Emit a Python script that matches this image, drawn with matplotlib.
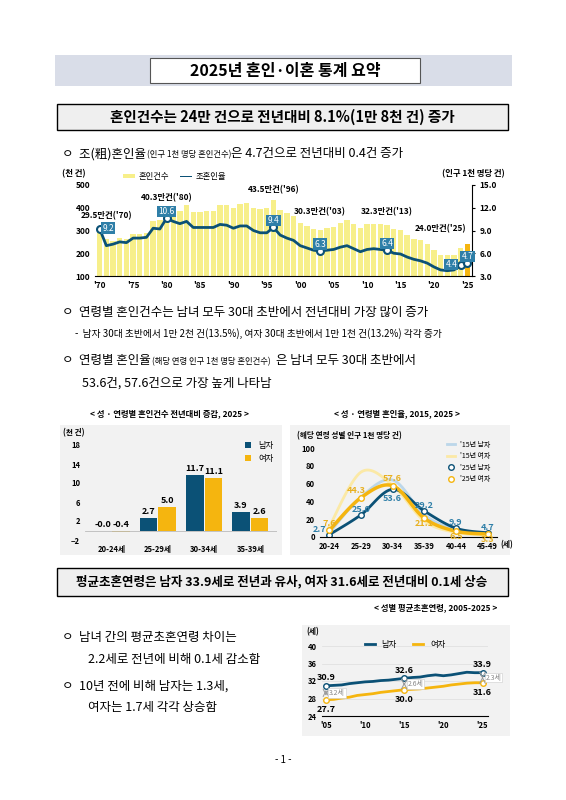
import numpy as np
import matplotlib
matplotlib.use('Agg')
import matplotlib.pyplot as plt
from matplotlib.patches import Rectangle

plt.rcParams['font.family'] = ['Noto Sans CJK KR', 'DejaVu Sans']

# ---- data ----
years = np.arange(1970, 2026)
marriages = [295, 262, 255, 265, 262, 283, 285, 290, 340, 345,
             403, 390, 385, 410, 380, 383, 385, 385, 410, 410,
             400, 415, 420, 400, 393, 398, 435, 389, 375, 363,
             334, 320, 306, 303, 309, 314, 331, 344, 328, 310,
             327, 330, 327, 323, 306, 303, 282, 264, 258, 240,
             214, 193, 192, 194, 222, 240]
crude_rate = [9.2, 7.0, 7.2, 7.5, 7.4, 8.0, 8.0, 8.1, 9.3, 9.2,
              10.6, 10.2, 9.9, 10.2, 9.4, 9.4, 9.4, 9.4, 9.8, 9.7,
              9.3, 9.6, 9.6, 9.0, 8.7, 8.7, 9.4, 8.4, 8.0, 7.7,
              7.0, 6.7, 6.4, 6.3, 6.4, 6.5, 6.8, 7.0, 6.6, 6.2,
              6.5, 6.6, 6.5, 6.4, 6.0, 5.9, 5.5, 5.2, 5.0, 4.7,
              4.2, 3.8, 3.7, 3.8, 4.4, 4.7]

age_groups = ['20-24세', '25-29세', '30-34세', '35-39세']
chg_male = [-0.0, 2.7, 11.7, 3.9]
chg_female = [-0.4, 5.0, 11.1, 2.6]

rate_ages = ['20-24', '25-29', '30-34', '35-39', '40-44', '45-49']
m15 = [5, 45, 64, 25, 8, 4]
f15 = [12, 73, 58, 18, 5, 2]
m25 = [2.7, 25.0, 53.6, 29.2, 9.9, 4.7]
f25 = [7.6, 44.3, 57.6, 21.1, 6.5, 3.3]

fm_years = np.arange(2005, 2026)
fm_male = [30.9, 31.0, 31.1, 31.4, 31.6, 31.8, 31.9, 32.1, 32.2, 32.4, 32.6,
           32.8, 32.9, 33.2, 33.4, 33.2, 33.4, 33.7, 34.0, 33.9, 33.9]
fm_female = [27.7, 27.8, 28.1, 28.3, 28.7, 28.9, 29.1, 29.4, 29.6, 29.8, 30.0,
             30.1, 30.2, 30.4, 30.6, 30.8, 31.1, 31.3, 31.5, 31.6, 31.6]

NAVY = '#0b5176'
GOLD = '#f5b50f'
W, H = 566, 800

fig = plt.figure(figsize=(W / 100, H / 100), dpi=100)

def ax_px(x0, y0, x1, y1):
    return fig.add_axes([x0 / W, 1 - y1 / H, (x1 - x0) / W, (y1 - y0) / H])

def txt(x, y, s, **kw):
    fig.text(x / W, 1 - y / H, s, **kw)

def rect(x0, y0, x1, y1, **kw):
    fig.patches.append(Rectangle((x0 / W, 1 - y1 / H), (x1 - x0) / W, (y1 - y0) / H,
                                 transform=fig.transFigure, zorder=-5, **kw))

def smooth(xs, ys, n=20):
    # catmull-rom for drawing the curve only
    xs = np.asarray(xs, float); ys = np.asarray(ys, float)
    px = np.r_[xs[0], xs, xs[-1]]; py = np.r_[ys[0], ys, ys[-1]]
    ox, oy = [], []
    t = np.linspace(0, 1, n)
    for i in range(1, len(px) - 2):
        for p, o in ((px, ox), (py, oy)):
            p0, p1, p2, p3 = p[i - 1], p[i], p[i + 1], p[i + 2]
            o.extend(0.5 * (2 * p1 + (-p0 + p2) * t + (2 * p0 - 5 * p1 + 4 * p2 - p3) * t ** 2
                            + (-p0 + 3 * p1 - 3 * p2 + p3) * t ** 3))
    return ox, oy

# ---- title banner ----
rect(55, 55, 512, 86, facecolor='#d9dde8', edgecolor='none')
rect(150, 58, 420, 83, facecolor='white', edgecolor='#555555', lw=0.8)
txt(285, 71, '2025년 혼인·이혼 통계 요약', ha='center', va='center', fontsize=11.5, fontweight='bold')

# ---- section 1 header ----
rect(57, 104, 508, 130, facecolor='#efefef', edgecolor='black', lw=1)
txt(282, 117, '혼인건수는 24만 건으로 전년대비 8.1%(1만 8천 건) 증가', ha='center', va='center',
    fontsize=10.5, fontweight='bold')
txt(62, 154, 'ㅇ  조(粗)혼인율', fontsize=9, va='center')
txt(147, 155, '(인구 1천 명당 혼인건수)', fontsize=6, va='center')
txt(231, 154, '은 4.7건으로 전년대비 0.4건 증가', fontsize=9, va='center')

# ---- chart 1 ----
ax = ax_px(95, 185, 472, 276)
ax.bar(years, marriages, width=0.8, color='#f7ef8a')
ax.bar(years[-1:], marriages[-1:], width=0.8, color=GOLD)
ax.set_ylim(100, 500)
ax.set_yticks(range(100, 501, 100))
ax.set_xlim(1969.3, 2025.7)
ax.set_xticks(range(1970, 2026, 5))
ax.set_xticklabels([f"'{y % 100:02d}" for y in range(1970, 2026, 5)])
ax.tick_params(labelsize=6, length=0)
for lab in ax.get_xticklabels() + ax.get_yticklabels():
    lab.set_fontweight('bold')
for s in ['top', 'right', 'left']:
    ax.spines[s].set_visible(False)
ax2 = ax.twinx()
ax2.plot(years, crude_rate, color=NAVY, lw=2)
mk = [1970, 1980, 1996, 2003, 2013, 2024, 2025]
ax2.plot(mk, [crude_rate[y - 1970] for y in mk], 'o', ms=5, mfc='white', mec=NAVY, mew=1.5)
offs = {1970: 1.3, 2024: -1.4}
for y in mk:
    v = crude_rate[y - 1970]
    ax2.text(y + offs.get(y, 0), v + (0.1 if y in offs else 0.9), f'{v:.1f}', fontsize=6, color='white',
             ha='center', va='center', zorder=5,
             bbox=dict(boxstyle='square,pad=0.15', fc='#2f7fa8', ec='none'))
ax2.set_ylim(3, 15)
ax2.set_yticks([3, 6, 9, 12, 15])
ax2.set_yticklabels(['3.0', '6.0', '9.0', '12.0', '15.0'])
ax2.tick_params(labelsize=6, length=2)
for lab in ax2.get_yticklabels():
    lab.set_fontweight('bold')
for s in ['top', 'left', 'bottom']:
    ax2.spines[s].set_visible(False)
for y, lbl, yy in [(1971, "29.5만건('70)", 345), (1980, "40.3만건('80)", 425), (1996, "43.5만건('96)", 458),
                   (2003, "30.3만건('03)", 362), (2013, "32.3만건('13)", 362), (2021, "24.0만건('25)", 290)]:
    ax.text(y, yy, lbl, fontsize=6, fontweight='bold', ha='center', va='bottom')
txt(62, 176, '(천 건)', fontsize=6, fontweight='bold')
txt(505, 176, '(인구 1천 명당 건)', fontsize=6, fontweight='bold', ha='right')
rect(123, 174, 135, 178, facecolor='#f7ef8a', edgecolor='none')
txt(139, 176, '혼인건수', fontsize=6, va='center')
rect(180, 175.5, 192, 177, facecolor=NAVY, edgecolor='none')
txt(196, 176, '조혼인율', fontsize=6, va='center')

# ---- text block ----
txt(62, 312, 'ㅇ  연령별 혼인건수는 남녀 모두 30대 초반에서 전년대비 가장 많이 증가', fontsize=9, va='center')
txt(75, 334, '-  남자 30대 초반에서 1만 2천 건(13.5%), 여자 30대 초반에서 1만 1천 건(13.2%) 각각 증가',
    fontsize=7, va='center')
txt(62, 361, 'ㅇ  연령별 혼인율', fontsize=9, va='center')
txt(152, 362, '(해당 연령 인구 1천 명당 혼인건수)', fontsize=6, va='center')
txt(276, 361, '은 남녀 모두 30대 초반에서', fontsize=9, va='center')
txt(82, 383, '53.6건, 57.6건으로 가장 높게 나타남', fontsize=9, va='center')

txt(170, 416, '< 성 · 연령별 혼인건수 전년대비 증감, 2025 >', fontsize=6, fontweight='bold', ha='center')
txt(397, 416, '< 성 · 연령별 혼인율, 2015, 2025 >', fontsize=6, fontweight='bold', ha='center')
rect(60, 425, 282, 555, facecolor='#f2f2f2', edgecolor='none')
rect(290, 425, 510, 555, facecolor='#f2f2f2', edgecolor='none')

# ---- chart 2 bars ----
ax = ax_px(85, 445, 277, 540)
x = np.arange(len(age_groups))
ax.bar(x - 0.2, chg_male, 0.38, color=NAVY, label='남자')
ax.bar(x + 0.2, chg_female, 0.38, color=GOLD, label='여자')
for i in range(len(x)):
    for dx, v in ((-0.2, chg_male[i]), (0.2, chg_female[i])):
        ax.text(i + dx, max(v, 0) + 0.4, f'{v:.1f}', ha='center', va='bottom', fontsize=6.5, fontweight='bold')
ax.set_ylim(-2, 18)
ax.set_yticks(range(-2, 19, 4))
ax.set_xticks(x)
ax.set_xticklabels(age_groups)
ax.tick_params(labelsize=5.5, length=0)
for lab in ax.get_xticklabels() + ax.get_yticklabels():
    lab.set_fontweight('bold')
ax.axhline(0, color='#bbbbbb', lw=0.6)
ax.set_facecolor('none')
for s in ax.spines.values():
    s.set_visible(False)
ax.legend(loc='upper right', fontsize=6, frameon=False, handlelength=0.8, bbox_to_anchor=(1.02, 1.12))
txt(63, 435, '(천 건)', fontsize=5.5, fontweight='bold')

# ---- chart 3 rates ----
ax = ax_px(320, 448, 497, 537)
xi = np.arange(len(rate_ages))
ax.plot(*smooth(xi, m15), color='#bcd7ea', lw=2, label="'15년 남자")
ax.plot(*smooth(xi, f15), color='#fbe9a6', lw=2, label="'15년 여자")
ax.plot(*smooth(xi, m25), color=NAVY, lw=2)
ax.plot(*smooth(xi, f25), color=GOLD, lw=2.5)
ax.plot(xi, m25, 'o', color=NAVY, mfc='white', ms=4, ls='-', lw=0, label="'25년 남자")
ax.plot(xi, f25, 'o', color=GOLD, mfc='white', ms=4, ls='-', lw=0, label="'25년 여자")
for i in xi:
    ax.text(i + (-0.1 if i == 0 else 0), m25[i] + (-10 if i == 2 else 6), f'{m25[i]:.1f}', color='#2f7fa8',
            fontsize=6.5, fontweight='bold', ha='center' if i else 'right', va='center')
    ax.text(i - (0.15 if i in (1,) else 0), f25[i] + (8 if i < 3 else -6), f'{f25[i]:.1f}', color='#e8b020',
            fontsize=6.5, fontweight='bold', ha='center', va='center')
ax.set_ylim(0, 100)
ax.set_xlim(-0.3, 5.3)
ax.set_yticks(range(0, 101, 20))
ax.set_xticks(xi)
ax.set_xticklabels(rate_ages)
ax.tick_params(labelsize=5.5, length=0)
for lab in ax.get_xticklabels() + ax.get_yticklabels():
    lab.set_fontweight('bold')
ax.set_facecolor('none')
for s in ['top', 'right', 'left']:
    ax.spines[s].set_visible(False)
ax.legend(loc='upper right', fontsize=5, frameon=False, handlelength=1.2, bbox_to_anchor=(1.0, 1.15))
txt(297, 438, '(해당 연령 성별 인구 1천 명당 건)', fontsize=5.5, fontweight='bold')
txt(500, 547, '(세)', fontsize=5.5, fontweight='bold')

# ---- section 2 header ----
rect(57, 568, 508, 596, facecolor='#efefef', edgecolor='black', lw=1)
txt(282, 582, '평균초혼연령은 남자 33.9세로 전년과 유사, 여자 31.6세로 전년대비 0.1세 상승', ha='center',
    va='center', fontsize=9, fontweight='bold')
txt(497, 610, '< 성별 평균초혼연령, 2005-2025 >', fontsize=6, fontweight='bold', ha='right')
txt(62, 638, 'ㅇ  남녀 간의 평균초혼연령 차이는', fontsize=9, va='center')
txt(88, 660, '2.2세로 전년에 비해 0.1세 감소함', fontsize=9, va='center')
txt(62, 686, 'ㅇ  10년 전에 비해 남자는 1.3세,', fontsize=9, va='center')
txt(88, 708, '여자는 1.7세 각각 상승함', fontsize=9, va='center')

# ---- chart 4 ----
rect(302, 625, 510, 736, facecolor='#f2f2f2', edgecolor='none')
ax = ax_px(322, 646, 488, 716)
ax.plot(fm_years, fm_male, color=NAVY, lw=2, label='남자')
ax.plot(fm_years, fm_female, color=GOLD, lw=2, label='여자')
for y in (2005, 2015, 2025):
    i = y - 2005
    ax.plot(y, fm_male[i], 'o', mfc='white', mec=NAVY, ms=4)
    ax.plot(y, fm_female[i], 'o', mfc='white', mec=GOLD, ms=4)
    ax.text(y, fm_male[i] + 1.3, f'{fm_male[i]:.1f}', ha='center', fontsize=6.5, fontweight='bold')
    ax.text(y, fm_female[i] - 1.3, f'{fm_female[i]:.1f}', ha='center', va='top', fontsize=6.5, fontweight='bold')
    gap = fm_male[i] - fm_female[i]
    ax.annotate('', xy=(y, fm_female[i] + 0.3), xytext=(y, fm_male[i] - 0.3),
                arrowprops=dict(arrowstyle='<->', color='#999999', lw=0.7))
    ax.text(y + 0.4, (fm_male[i] + fm_female[i]) / 2, f'{gap:.1f}세', fontsize=5, color='#888888', va='center',
            bbox=dict(fc='white', ec='#cccccc', lw=0.4, pad=0.5))
ax.set_ylim(24, 40)
ax.set_yticks(range(24, 41, 4))
ax.set_xlim(2004.5, 2025.7)
ax.set_xticks(range(2005, 2026, 5))
ax.set_xticklabels([f"'{y % 100:02d}" for y in range(2005, 2026, 5)])
ax.tick_params(labelsize=5.5, length=0)
for lab in ax.get_xticklabels() + ax.get_yticklabels():
    lab.set_fontweight('bold')
ax.set_facecolor('none')
ax.grid(axis='y', color='#dddddd', lw=0.5)
for s in ['top', 'right', 'left']:
    ax.spines[s].set_visible(False)
ax.legend(loc='upper center', ncol=2, fontsize=6, frameon=False, handlelength=1.2, bbox_to_anchor=(0.5, 1.2))
txt(306, 634, '(세)', fontsize=5.5, fontweight='bold')

txt(283, 763, '- 1 -', fontsize=7, ha='center')

fig.savefig('out.png', dpi=100)
